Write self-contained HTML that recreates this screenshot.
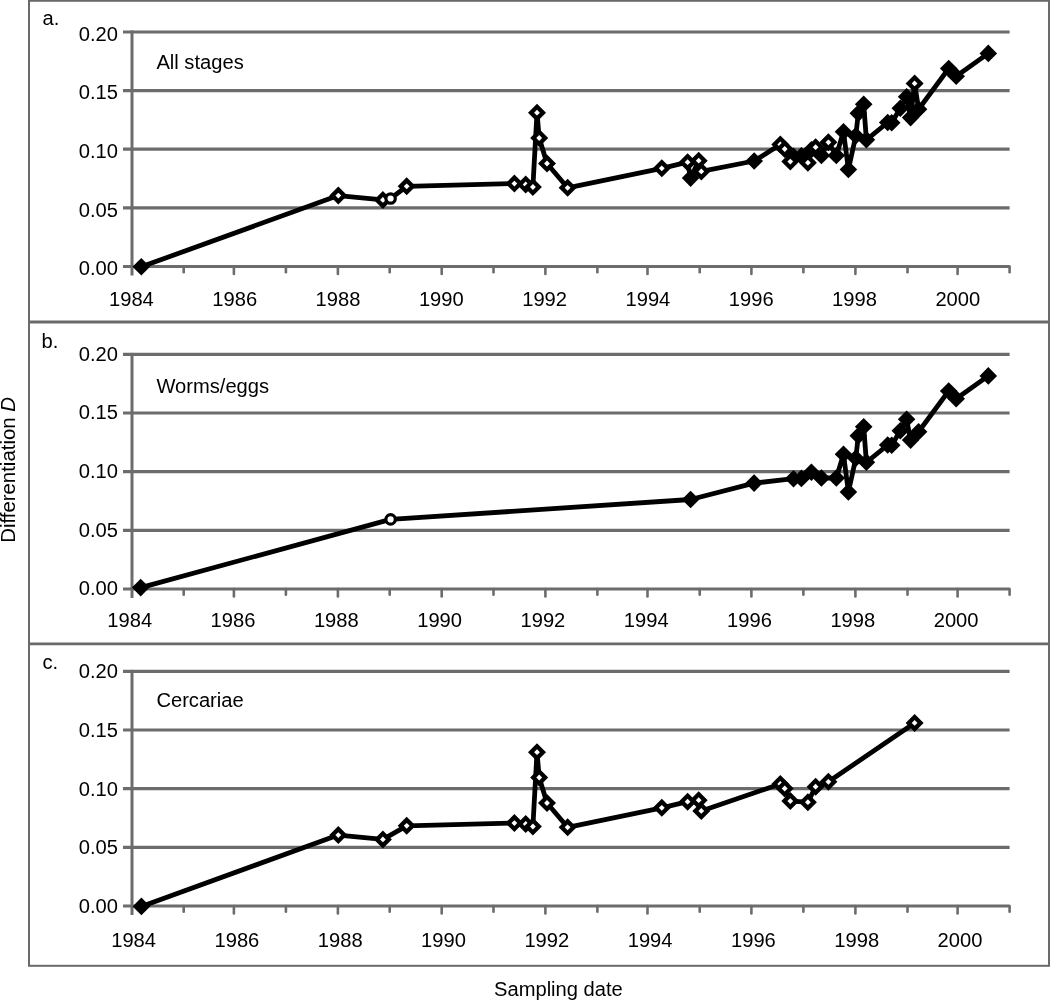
<!DOCTYPE html><html><head><meta charset="utf-8"><style>html,body{margin:0;padding:0;background:#fff;width:1050px;height:1000px;overflow:hidden}svg{display:block;filter:grayscale(1)}text{font-family:"Liberation Sans",sans-serif;font-size:20.15px;fill:#000}</style></head><body>
<svg width="1050" height="1000" viewBox="0 0 1050 1000">
<rect x="29" y="0.8" width="1020" height="965" fill="none" stroke="#6a6a6a" stroke-width="2"/>
<line x1="28" y1="322" x2="1050" y2="322" stroke="#6a6a6a" stroke-width="2.8"/>
<line x1="28" y1="643.9" x2="1050" y2="643.9" stroke="#6a6a6a" stroke-width="2.8"/>
<line x1="123" y1="32.0" x2="1009.6" y2="32.0" stroke="#6c6c6c" stroke-width="3.2"/>
<line x1="123" y1="90.6" x2="1009.6" y2="90.6" stroke="#6c6c6c" stroke-width="3.2"/>
<line x1="123" y1="149.2" x2="1009.6" y2="149.2" stroke="#6c6c6c" stroke-width="3.2"/>
<line x1="123" y1="207.9" x2="1009.6" y2="207.9" stroke="#6c6c6c" stroke-width="3.2"/>
<line x1="123" y1="266.5" x2="1009.6" y2="266.5" stroke="#6c6c6c" stroke-width="3.2"/>
<line x1="132.0" y1="30.5" x2="132.0" y2="275.5" stroke="#6c6c6c" stroke-width="3"/>
<line x1="183.7" y1="266.5" x2="183.7" y2="272.2" stroke="#6c6c6c" stroke-width="2.6" stroke-linecap="round"/>
<line x1="233.9" y1="266.5" x2="233.9" y2="274.0" stroke="#6c6c6c" stroke-width="2.6" stroke-linecap="round"/>
<line x1="285.9" y1="266.5" x2="285.9" y2="272.2" stroke="#6c6c6c" stroke-width="2.6" stroke-linecap="round"/>
<line x1="337.9" y1="266.5" x2="337.9" y2="274.0" stroke="#6c6c6c" stroke-width="2.6" stroke-linecap="round"/>
<line x1="389.7" y1="266.5" x2="389.7" y2="272.2" stroke="#6c6c6c" stroke-width="2.6" stroke-linecap="round"/>
<line x1="441.7" y1="266.5" x2="441.7" y2="274.0" stroke="#6c6c6c" stroke-width="2.6" stroke-linecap="round"/>
<line x1="493.5" y1="266.5" x2="493.5" y2="272.2" stroke="#6c6c6c" stroke-width="2.6" stroke-linecap="round"/>
<line x1="545.4" y1="266.5" x2="545.4" y2="274.0" stroke="#6c6c6c" stroke-width="2.6" stroke-linecap="round"/>
<line x1="597.4" y1="266.5" x2="597.4" y2="272.2" stroke="#6c6c6c" stroke-width="2.6" stroke-linecap="round"/>
<line x1="647.5" y1="266.5" x2="647.5" y2="274.0" stroke="#6c6c6c" stroke-width="2.6" stroke-linecap="round"/>
<line x1="699.7" y1="266.5" x2="699.7" y2="272.2" stroke="#6c6c6c" stroke-width="2.6" stroke-linecap="round"/>
<line x1="751.4" y1="266.5" x2="751.4" y2="274.0" stroke="#6c6c6c" stroke-width="2.6" stroke-linecap="round"/>
<line x1="803.4" y1="266.5" x2="803.4" y2="272.2" stroke="#6c6c6c" stroke-width="2.6" stroke-linecap="round"/>
<line x1="855.4" y1="266.5" x2="855.4" y2="274.0" stroke="#6c6c6c" stroke-width="2.6" stroke-linecap="round"/>
<line x1="907.5" y1="266.5" x2="907.5" y2="272.2" stroke="#6c6c6c" stroke-width="2.6" stroke-linecap="round"/>
<line x1="957.6" y1="266.5" x2="957.6" y2="274.0" stroke="#6c6c6c" stroke-width="2.6" stroke-linecap="round"/>
<line x1="1009.6" y1="266.5" x2="1009.6" y2="272.2" stroke="#6c6c6c" stroke-width="2.6" stroke-linecap="round"/>
<text x="118" y="40.7" text-anchor="end">0.20</text>
<text x="118" y="99.3" text-anchor="end">0.15</text>
<text x="118" y="157.9" text-anchor="end">0.10</text>
<text x="118" y="216.6" text-anchor="end">0.05</text>
<text x="118" y="275.2" text-anchor="end">0.00</text>
<text x="131.4" y="305.9" text-anchor="middle">1984</text>
<text x="234.7" y="305.9" text-anchor="middle">1986</text>
<text x="338.0" y="305.9" text-anchor="middle">1988</text>
<text x="441.3" y="305.9" text-anchor="middle">1990</text>
<text x="544.6" y="305.9" text-anchor="middle">1992</text>
<text x="647.9" y="305.9" text-anchor="middle">1994</text>
<text x="751.2" y="305.9" text-anchor="middle">1996</text>
<text x="854.5" y="305.9" text-anchor="middle">1998</text>
<text x="957.8" y="305.9" text-anchor="middle">2000</text>
<text x="42.5" y="25.3">a.</text>
<text x="156.4" y="68.6">All stages</text>
<line x1="123" y1="354.4" x2="1009.6" y2="354.4" stroke="#6c6c6c" stroke-width="3.2"/>
<line x1="123" y1="413.0" x2="1009.6" y2="413.0" stroke="#6c6c6c" stroke-width="3.2"/>
<line x1="123" y1="471.7" x2="1009.6" y2="471.7" stroke="#6c6c6c" stroke-width="3.2"/>
<line x1="123" y1="530.4" x2="1009.6" y2="530.4" stroke="#6c6c6c" stroke-width="3.2"/>
<line x1="123" y1="589.0" x2="1009.6" y2="589.0" stroke="#6c6c6c" stroke-width="3.2"/>
<line x1="132.0" y1="352.9" x2="132.0" y2="598.0" stroke="#6c6c6c" stroke-width="3"/>
<line x1="183.7" y1="589.0" x2="183.7" y2="594.7" stroke="#6c6c6c" stroke-width="2.6" stroke-linecap="round"/>
<line x1="233.9" y1="589.0" x2="233.9" y2="596.5" stroke="#6c6c6c" stroke-width="2.6" stroke-linecap="round"/>
<line x1="285.9" y1="589.0" x2="285.9" y2="594.7" stroke="#6c6c6c" stroke-width="2.6" stroke-linecap="round"/>
<line x1="337.9" y1="589.0" x2="337.9" y2="596.5" stroke="#6c6c6c" stroke-width="2.6" stroke-linecap="round"/>
<line x1="389.7" y1="589.0" x2="389.7" y2="594.7" stroke="#6c6c6c" stroke-width="2.6" stroke-linecap="round"/>
<line x1="441.7" y1="589.0" x2="441.7" y2="596.5" stroke="#6c6c6c" stroke-width="2.6" stroke-linecap="round"/>
<line x1="493.5" y1="589.0" x2="493.5" y2="594.7" stroke="#6c6c6c" stroke-width="2.6" stroke-linecap="round"/>
<line x1="545.4" y1="589.0" x2="545.4" y2="596.5" stroke="#6c6c6c" stroke-width="2.6" stroke-linecap="round"/>
<line x1="597.4" y1="589.0" x2="597.4" y2="594.7" stroke="#6c6c6c" stroke-width="2.6" stroke-linecap="round"/>
<line x1="647.5" y1="589.0" x2="647.5" y2="596.5" stroke="#6c6c6c" stroke-width="2.6" stroke-linecap="round"/>
<line x1="699.7" y1="589.0" x2="699.7" y2="594.7" stroke="#6c6c6c" stroke-width="2.6" stroke-linecap="round"/>
<line x1="751.4" y1="589.0" x2="751.4" y2="596.5" stroke="#6c6c6c" stroke-width="2.6" stroke-linecap="round"/>
<line x1="803.4" y1="589.0" x2="803.4" y2="594.7" stroke="#6c6c6c" stroke-width="2.6" stroke-linecap="round"/>
<line x1="855.4" y1="589.0" x2="855.4" y2="596.5" stroke="#6c6c6c" stroke-width="2.6" stroke-linecap="round"/>
<line x1="907.5" y1="589.0" x2="907.5" y2="594.7" stroke="#6c6c6c" stroke-width="2.6" stroke-linecap="round"/>
<line x1="957.6" y1="589.0" x2="957.6" y2="596.5" stroke="#6c6c6c" stroke-width="2.6" stroke-linecap="round"/>
<line x1="1009.6" y1="589.0" x2="1009.6" y2="594.7" stroke="#6c6c6c" stroke-width="2.6" stroke-linecap="round"/>
<text x="118" y="360.5" text-anchor="end">0.20</text>
<text x="118" y="419.1" text-anchor="end">0.15</text>
<text x="118" y="477.8" text-anchor="end">0.10</text>
<text x="118" y="536.5" text-anchor="end">0.05</text>
<text x="118" y="595.1" text-anchor="end">0.00</text>
<text x="129.7" y="627.0" text-anchor="middle">1984</text>
<text x="233.0" y="627.0" text-anchor="middle">1986</text>
<text x="336.3" y="627.0" text-anchor="middle">1988</text>
<text x="439.6" y="627.0" text-anchor="middle">1990</text>
<text x="542.9" y="627.0" text-anchor="middle">1992</text>
<text x="646.2" y="627.0" text-anchor="middle">1994</text>
<text x="749.5" y="627.0" text-anchor="middle">1996</text>
<text x="852.8" y="627.0" text-anchor="middle">1998</text>
<text x="956.1" y="627.0" text-anchor="middle">2000</text>
<text x="41.5" y="348.0">b.</text>
<text x="156.4" y="393.0">Worms/eggs</text>
<line x1="123" y1="671.4" x2="1009.6" y2="671.4" stroke="#6c6c6c" stroke-width="3.2"/>
<line x1="123" y1="730.0" x2="1009.6" y2="730.0" stroke="#6c6c6c" stroke-width="3.2"/>
<line x1="123" y1="788.7" x2="1009.6" y2="788.7" stroke="#6c6c6c" stroke-width="3.2"/>
<line x1="123" y1="847.4" x2="1009.6" y2="847.4" stroke="#6c6c6c" stroke-width="3.2"/>
<line x1="123" y1="906.0" x2="1009.6" y2="906.0" stroke="#6c6c6c" stroke-width="3.2"/>
<line x1="132.0" y1="669.9" x2="132.0" y2="915.0" stroke="#6c6c6c" stroke-width="3"/>
<line x1="183.7" y1="906.0" x2="183.7" y2="911.7" stroke="#6c6c6c" stroke-width="2.6" stroke-linecap="round"/>
<line x1="233.9" y1="906.0" x2="233.9" y2="913.5" stroke="#6c6c6c" stroke-width="2.6" stroke-linecap="round"/>
<line x1="285.9" y1="906.0" x2="285.9" y2="911.7" stroke="#6c6c6c" stroke-width="2.6" stroke-linecap="round"/>
<line x1="337.9" y1="906.0" x2="337.9" y2="913.5" stroke="#6c6c6c" stroke-width="2.6" stroke-linecap="round"/>
<line x1="389.7" y1="906.0" x2="389.7" y2="911.7" stroke="#6c6c6c" stroke-width="2.6" stroke-linecap="round"/>
<line x1="441.7" y1="906.0" x2="441.7" y2="913.5" stroke="#6c6c6c" stroke-width="2.6" stroke-linecap="round"/>
<line x1="493.5" y1="906.0" x2="493.5" y2="911.7" stroke="#6c6c6c" stroke-width="2.6" stroke-linecap="round"/>
<line x1="545.4" y1="906.0" x2="545.4" y2="913.5" stroke="#6c6c6c" stroke-width="2.6" stroke-linecap="round"/>
<line x1="597.4" y1="906.0" x2="597.4" y2="911.7" stroke="#6c6c6c" stroke-width="2.6" stroke-linecap="round"/>
<line x1="647.5" y1="906.0" x2="647.5" y2="913.5" stroke="#6c6c6c" stroke-width="2.6" stroke-linecap="round"/>
<line x1="699.7" y1="906.0" x2="699.7" y2="911.7" stroke="#6c6c6c" stroke-width="2.6" stroke-linecap="round"/>
<line x1="751.4" y1="906.0" x2="751.4" y2="913.5" stroke="#6c6c6c" stroke-width="2.6" stroke-linecap="round"/>
<line x1="803.4" y1="906.0" x2="803.4" y2="911.7" stroke="#6c6c6c" stroke-width="2.6" stroke-linecap="round"/>
<line x1="855.4" y1="906.0" x2="855.4" y2="913.5" stroke="#6c6c6c" stroke-width="2.6" stroke-linecap="round"/>
<line x1="907.5" y1="906.0" x2="907.5" y2="911.7" stroke="#6c6c6c" stroke-width="2.6" stroke-linecap="round"/>
<line x1="957.6" y1="906.0" x2="957.6" y2="913.5" stroke="#6c6c6c" stroke-width="2.6" stroke-linecap="round"/>
<line x1="1009.6" y1="906.0" x2="1009.6" y2="911.7" stroke="#6c6c6c" stroke-width="2.6" stroke-linecap="round"/>
<text x="118" y="678.3" text-anchor="end">0.20</text>
<text x="118" y="736.9" text-anchor="end">0.15</text>
<text x="118" y="795.6" text-anchor="end">0.10</text>
<text x="118" y="854.2" text-anchor="end">0.05</text>
<text x="118" y="912.9" text-anchor="end">0.00</text>
<text x="133.6" y="947.1" text-anchor="middle">1984</text>
<text x="236.9" y="947.1" text-anchor="middle">1986</text>
<text x="340.2" y="947.1" text-anchor="middle">1988</text>
<text x="443.5" y="947.1" text-anchor="middle">1990</text>
<text x="546.8" y="947.1" text-anchor="middle">1992</text>
<text x="650.1" y="947.1" text-anchor="middle">1994</text>
<text x="753.4" y="947.1" text-anchor="middle">1996</text>
<text x="856.7" y="947.1" text-anchor="middle">1998</text>
<text x="960.0" y="947.1" text-anchor="middle">2000</text>
<text x="42.5" y="669.3">c.</text>
<text x="156.4" y="707.4">Cercariae</text>
<path d="M141.3 266.8 L338.3 195.6 L382.9 199.9 L390.6 198.5 L406.7 186.3 L514.4 183.6 L525.7 184.5 L532.9 187.0 L537.0 112.7 L539.2 138.0 L547.0 163.5 L567.6 187.8 L661.8 168.3 L687.6 162.2 L690.6 178.1 L698.7 160.7 L701.3 171.4 L754.2 161.0 L780.3 144.5 L784.7 149.0 L790.3 161.6 L793.5 156.2 L801.4 155.9 L807.9 162.7 L811.4 149.8 L815.6 147.2 L821.4 155.5 L828.4 142.3 L836.3 155.5 L843.5 131.7 L848.4 169.5 L855.8 135.8 L858.3 113.2 L863.7 104.2 L866.4 139.8 L887.7 122.5 L891.7 122.8 L900.3 108.2 L906.6 96.8 L910.6 117.6 L914.6 83.4 L918.6 109.2 L948.7 68.5 L956.2 76.2 L988.3 53.4" fill="none" stroke="#000" stroke-width="4.8" stroke-linejoin="round" stroke-linecap="butt"/>
<path d="M141.3 258.0L150.1 266.8L141.3 275.6L132.5 266.8Z" fill="#000"/>
<path d="M690.6 169.3L699.4 178.1L690.6 186.9L681.8 178.1Z" fill="#000"/>
<path d="M754.2 152.2L763.0 161.0L754.2 169.8L745.4 161.0Z" fill="#000"/>
<path d="M793.5 147.4L802.3 156.2L793.5 165.0L784.7 156.2Z" fill="#000"/>
<path d="M801.4 147.1L810.2 155.9L801.4 164.7L792.6 155.9Z" fill="#000"/>
<path d="M811.4 141.0L820.2 149.8L811.4 158.6L802.6 149.8Z" fill="#000"/>
<path d="M821.4 146.7L830.2 155.5L821.4 164.3L812.6 155.5Z" fill="#000"/>
<path d="M836.3 146.7L845.1 155.5L836.3 164.3L827.5 155.5Z" fill="#000"/>
<path d="M843.5 122.9L852.3 131.7L843.5 140.5L834.7 131.7Z" fill="#000"/>
<path d="M848.4 160.7L857.2 169.5L848.4 178.3L839.6 169.5Z" fill="#000"/>
<path d="M855.8 127.0L864.6 135.8L855.8 144.6L847.0 135.8Z" fill="#000"/>
<path d="M858.3 104.4L867.1 113.2L858.3 122.0L849.5 113.2Z" fill="#000"/>
<path d="M863.7 95.4L872.5 104.2L863.7 113.0L854.9 104.2Z" fill="#000"/>
<path d="M866.4 131.0L875.2 139.8L866.4 148.6L857.6 139.8Z" fill="#000"/>
<path d="M887.7 113.7L896.5 122.5L887.7 131.3L878.9 122.5Z" fill="#000"/>
<path d="M891.7 114.0L900.5 122.8L891.7 131.6L882.9 122.8Z" fill="#000"/>
<path d="M900.3 99.4L909.1 108.2L900.3 117.0L891.5 108.2Z" fill="#000"/>
<path d="M906.6 88.0L915.4 96.8L906.6 105.6L897.8 96.8Z" fill="#000"/>
<path d="M910.6 108.8L919.4 117.6L910.6 126.4L901.8 117.6Z" fill="#000"/>
<path d="M918.6 100.4L927.4 109.2L918.6 118.0L909.8 109.2Z" fill="#000"/>
<path d="M948.7 59.7L957.5 68.5L948.7 77.3L939.9 68.5Z" fill="#000"/>
<path d="M956.2 67.4L965.0 76.2L956.2 85.0L947.4 76.2Z" fill="#000"/>
<path d="M988.3 44.6L997.1 53.4L988.3 62.2L979.5 53.4Z" fill="#000"/>
<path d="M338.3 186.6L347.3 195.6L338.3 204.6L329.3 195.6Z" fill="#000"/><path d="M338.3 192.7L335.4 195.6L338.3 198.5L341.2 195.6Z" fill="#fff"/>
<path d="M382.9 190.9L391.9 199.9L382.9 208.9L373.9 199.9Z" fill="#000"/><path d="M382.9 197.0L380.0 199.9L382.9 202.8L385.8 199.9Z" fill="#fff"/>
<path d="M406.7 177.3L415.7 186.3L406.7 195.3L397.7 186.3Z" fill="#000"/><path d="M406.7 183.4L403.8 186.3L406.7 189.2L409.6 186.3Z" fill="#fff"/>
<path d="M514.4 174.6L523.4 183.6L514.4 192.6L505.4 183.6Z" fill="#000"/><path d="M514.4 180.7L511.5 183.6L514.4 186.5L517.3 183.6Z" fill="#fff"/>
<path d="M525.7 175.5L534.7 184.5L525.7 193.5L516.7 184.5Z" fill="#000"/><path d="M525.7 181.6L522.8 184.5L525.7 187.4L528.6 184.5Z" fill="#fff"/>
<path d="M532.9 178.0L541.9 187.0L532.9 196.0L523.9 187.0Z" fill="#000"/><path d="M532.9 184.1L530.0 187.0L532.9 189.9L535.8 187.0Z" fill="#fff"/>
<path d="M537.0 103.7L546.0 112.7L537.0 121.7L528.0 112.7Z" fill="#000"/><path d="M537.0 109.8L534.1 112.7L537.0 115.6L539.9 112.7Z" fill="#fff"/>
<path d="M539.2 129.0L548.2 138.0L539.2 147.0L530.2 138.0Z" fill="#000"/><path d="M539.2 135.1L536.3 138.0L539.2 140.9L542.1 138.0Z" fill="#fff"/>
<path d="M547.0 154.5L556.0 163.5L547.0 172.5L538.0 163.5Z" fill="#000"/><path d="M547.0 160.6L544.1 163.5L547.0 166.4L549.9 163.5Z" fill="#fff"/>
<path d="M567.6 178.8L576.6 187.8L567.6 196.8L558.6 187.8Z" fill="#000"/><path d="M567.6 184.9L564.7 187.8L567.6 190.7L570.5 187.8Z" fill="#fff"/>
<path d="M661.8 159.3L670.8 168.3L661.8 177.3L652.8 168.3Z" fill="#000"/><path d="M661.8 165.4L658.9 168.3L661.8 171.2L664.7 168.3Z" fill="#fff"/>
<path d="M687.6 153.2L696.6 162.2L687.6 171.2L678.6 162.2Z" fill="#000"/><path d="M687.6 159.3L684.7 162.2L687.6 165.1L690.5 162.2Z" fill="#fff"/>
<path d="M698.7 151.7L707.7 160.7L698.7 169.7L689.7 160.7Z" fill="#000"/><path d="M698.7 157.8L695.8 160.7L698.7 163.6L701.6 160.7Z" fill="#fff"/>
<path d="M701.3 162.4L710.3 171.4L701.3 180.4L692.3 171.4Z" fill="#000"/><path d="M701.3 168.5L698.4 171.4L701.3 174.3L704.2 171.4Z" fill="#fff"/>
<path d="M780.3 135.5L789.3 144.5L780.3 153.5L771.3 144.5Z" fill="#000"/><path d="M780.3 141.6L777.4 144.5L780.3 147.4L783.2 144.5Z" fill="#fff"/>
<path d="M784.7 140.0L793.7 149.0L784.7 158.0L775.7 149.0Z" fill="#000"/><path d="M784.7 146.1L781.8 149.0L784.7 151.9L787.6 149.0Z" fill="#fff"/>
<path d="M790.3 152.6L799.3 161.6L790.3 170.6L781.3 161.6Z" fill="#000"/><path d="M790.3 158.7L787.4 161.6L790.3 164.5L793.2 161.6Z" fill="#fff"/>
<path d="M807.9 153.7L816.9 162.7L807.9 171.7L798.9 162.7Z" fill="#000"/><path d="M807.9 159.8L805.0 162.7L807.9 165.6L810.8 162.7Z" fill="#fff"/>
<path d="M815.6 138.2L824.6 147.2L815.6 156.2L806.6 147.2Z" fill="#000"/><path d="M815.6 144.3L812.7 147.2L815.6 150.1L818.5 147.2Z" fill="#fff"/>
<path d="M828.4 133.3L837.4 142.3L828.4 151.3L819.4 142.3Z" fill="#000"/><path d="M828.4 139.4L825.5 142.3L828.4 145.2L831.3 142.3Z" fill="#fff"/>
<path d="M914.6 74.4L923.6 83.4L914.6 92.4L905.6 83.4Z" fill="#000"/><path d="M914.6 80.5L911.7 83.4L914.6 86.3L917.5 83.4Z" fill="#fff"/>
<circle cx="390.6" cy="198.5" r="4.7" fill="#fff" stroke="#000" stroke-width="3.2"/>
<path d="M140.7 587.6 L390.6 519.4 L690.6 499.5 L754.1 483.1 L793.5 478.7 L801.4 478.4 L811.4 472.3 L821.4 478.0 L836.3 478.0 L843.5 454.2 L848.4 492.0 L855.8 458.3 L858.3 435.7 L863.7 426.7 L866.4 462.3 L887.7 445.0 L891.7 445.3 L900.3 430.7 L906.6 419.3 L910.6 440.1 L918.6 431.7 L948.7 391.0 L956.2 398.7 L988.3 375.9" fill="none" stroke="#000" stroke-width="4.8" stroke-linejoin="round" stroke-linecap="butt"/>
<path d="M140.7 578.8L149.5 587.6L140.7 596.4L131.9 587.6Z" fill="#000"/>
<path d="M690.6 490.7L699.4 499.5L690.6 508.3L681.8 499.5Z" fill="#000"/>
<path d="M754.1 474.3L762.9 483.1L754.1 491.9L745.3 483.1Z" fill="#000"/>
<path d="M793.5 469.9L802.3 478.7L793.5 487.5L784.7 478.7Z" fill="#000"/>
<path d="M801.4 469.6L810.2 478.4L801.4 487.2L792.6 478.4Z" fill="#000"/>
<path d="M811.4 463.5L820.2 472.3L811.4 481.1L802.6 472.3Z" fill="#000"/>
<path d="M821.4 469.2L830.2 478.0L821.4 486.8L812.6 478.0Z" fill="#000"/>
<path d="M836.3 469.2L845.1 478.0L836.3 486.8L827.5 478.0Z" fill="#000"/>
<path d="M843.5 445.4L852.3 454.2L843.5 463.0L834.7 454.2Z" fill="#000"/>
<path d="M848.4 483.2L857.2 492.0L848.4 500.8L839.6 492.0Z" fill="#000"/>
<path d="M855.8 449.5L864.6 458.3L855.8 467.1L847.0 458.3Z" fill="#000"/>
<path d="M858.3 426.9L867.1 435.7L858.3 444.5L849.5 435.7Z" fill="#000"/>
<path d="M863.7 417.9L872.5 426.7L863.7 435.5L854.9 426.7Z" fill="#000"/>
<path d="M866.4 453.5L875.2 462.3L866.4 471.1L857.6 462.3Z" fill="#000"/>
<path d="M887.7 436.2L896.5 445.0L887.7 453.8L878.9 445.0Z" fill="#000"/>
<path d="M891.7 436.5L900.5 445.3L891.7 454.1L882.9 445.3Z" fill="#000"/>
<path d="M900.3 421.9L909.1 430.7L900.3 439.5L891.5 430.7Z" fill="#000"/>
<path d="M906.6 410.5L915.4 419.3L906.6 428.1L897.8 419.3Z" fill="#000"/>
<path d="M910.6 431.3L919.4 440.1L910.6 448.9L901.8 440.1Z" fill="#000"/>
<path d="M918.6 422.9L927.4 431.7L918.6 440.5L909.8 431.7Z" fill="#000"/>
<path d="M948.7 382.2L957.5 391.0L948.7 399.8L939.9 391.0Z" fill="#000"/>
<path d="M956.2 389.9L965.0 398.7L956.2 407.5L947.4 398.7Z" fill="#000"/>
<path d="M988.3 367.1L997.1 375.9L988.3 384.7L979.5 375.9Z" fill="#000"/>
<circle cx="390.6" cy="519.4" r="4.7" fill="#fff" stroke="#000" stroke-width="3.2"/>
<path d="M141.4 906.4 L338.3 835.1 L382.9 839.4 L406.7 825.8 L514.4 823.1 L525.7 824.0 L532.9 826.5 L537.0 752.2 L539.2 777.5 L547.0 803.0 L567.6 827.3 L661.8 807.8 L687.6 801.7 L698.7 800.2 L701.3 810.9 L780.3 784.0 L784.7 788.5 L790.3 801.1 L807.9 802.2 L815.6 786.7 L828.4 781.8 L914.6 722.9" fill="none" stroke="#000" stroke-width="4.8" stroke-linejoin="round" stroke-linecap="butt"/>
<path d="M141.4 897.6L150.2 906.4L141.4 915.2L132.6 906.4Z" fill="#000"/>
<path d="M338.3 826.1L347.3 835.1L338.3 844.1L329.3 835.1Z" fill="#000"/><path d="M338.3 832.2L335.4 835.1L338.3 838.0L341.2 835.1Z" fill="#fff"/>
<path d="M382.9 830.4L391.9 839.4L382.9 848.4L373.9 839.4Z" fill="#000"/><path d="M382.9 836.5L380.0 839.4L382.9 842.3L385.8 839.4Z" fill="#fff"/>
<path d="M406.7 816.8L415.7 825.8L406.7 834.8L397.7 825.8Z" fill="#000"/><path d="M406.7 822.9L403.8 825.8L406.7 828.7L409.6 825.8Z" fill="#fff"/>
<path d="M514.4 814.1L523.4 823.1L514.4 832.1L505.4 823.1Z" fill="#000"/><path d="M514.4 820.2L511.5 823.1L514.4 826.0L517.3 823.1Z" fill="#fff"/>
<path d="M525.7 815.0L534.7 824.0L525.7 833.0L516.7 824.0Z" fill="#000"/><path d="M525.7 821.1L522.8 824.0L525.7 826.9L528.6 824.0Z" fill="#fff"/>
<path d="M532.9 817.5L541.9 826.5L532.9 835.5L523.9 826.5Z" fill="#000"/><path d="M532.9 823.6L530.0 826.5L532.9 829.4L535.8 826.5Z" fill="#fff"/>
<path d="M537.0 743.2L546.0 752.2L537.0 761.2L528.0 752.2Z" fill="#000"/><path d="M537.0 749.3L534.1 752.2L537.0 755.1L539.9 752.2Z" fill="#fff"/>
<path d="M539.2 768.5L548.2 777.5L539.2 786.5L530.2 777.5Z" fill="#000"/><path d="M539.2 774.6L536.3 777.5L539.2 780.4L542.1 777.5Z" fill="#fff"/>
<path d="M547.0 794.0L556.0 803.0L547.0 812.0L538.0 803.0Z" fill="#000"/><path d="M547.0 800.1L544.1 803.0L547.0 805.9L549.9 803.0Z" fill="#fff"/>
<path d="M567.6 818.3L576.6 827.3L567.6 836.3L558.6 827.3Z" fill="#000"/><path d="M567.6 824.4L564.7 827.3L567.6 830.2L570.5 827.3Z" fill="#fff"/>
<path d="M661.8 798.8L670.8 807.8L661.8 816.8L652.8 807.8Z" fill="#000"/><path d="M661.8 804.9L658.9 807.8L661.8 810.7L664.7 807.8Z" fill="#fff"/>
<path d="M687.6 792.7L696.6 801.7L687.6 810.7L678.6 801.7Z" fill="#000"/><path d="M687.6 798.8L684.7 801.7L687.6 804.6L690.5 801.7Z" fill="#fff"/>
<path d="M698.7 791.2L707.7 800.2L698.7 809.2L689.7 800.2Z" fill="#000"/><path d="M698.7 797.3L695.8 800.2L698.7 803.1L701.6 800.2Z" fill="#fff"/>
<path d="M701.3 801.9L710.3 810.9L701.3 819.9L692.3 810.9Z" fill="#000"/><path d="M701.3 808.0L698.4 810.9L701.3 813.8L704.2 810.9Z" fill="#fff"/>
<path d="M780.3 775.0L789.3 784.0L780.3 793.0L771.3 784.0Z" fill="#000"/><path d="M780.3 781.1L777.4 784.0L780.3 786.9L783.2 784.0Z" fill="#fff"/>
<path d="M784.7 779.5L793.7 788.5L784.7 797.5L775.7 788.5Z" fill="#000"/><path d="M784.7 785.6L781.8 788.5L784.7 791.4L787.6 788.5Z" fill="#fff"/>
<path d="M790.3 792.1L799.3 801.1L790.3 810.1L781.3 801.1Z" fill="#000"/><path d="M790.3 798.2L787.4 801.1L790.3 804.0L793.2 801.1Z" fill="#fff"/>
<path d="M807.9 793.2L816.9 802.2L807.9 811.2L798.9 802.2Z" fill="#000"/><path d="M807.9 799.3L805.0 802.2L807.9 805.1L810.8 802.2Z" fill="#fff"/>
<path d="M815.6 777.7L824.6 786.7L815.6 795.7L806.6 786.7Z" fill="#000"/><path d="M815.6 783.8L812.7 786.7L815.6 789.6L818.5 786.7Z" fill="#fff"/>
<path d="M828.4 772.8L837.4 781.8L828.4 790.8L819.4 781.8Z" fill="#000"/><path d="M828.4 778.9L825.5 781.8L828.4 784.7L831.3 781.8Z" fill="#fff"/>
<path d="M914.6 713.9L923.6 722.9L914.6 731.9L905.6 722.9Z" fill="#000"/><path d="M914.6 720.0L911.7 722.9L914.6 725.8L917.5 722.9Z" fill="#fff"/>
<text x="558.4" y="995.5" text-anchor="middle">Sampling date</text>
<text transform="translate(14.9 469.9) rotate(-90)" text-anchor="middle" style="font-size:20.4px;font-variant-ligatures:none">Differentiation <tspan font-style="italic">D</tspan></text>
</svg></body></html>
